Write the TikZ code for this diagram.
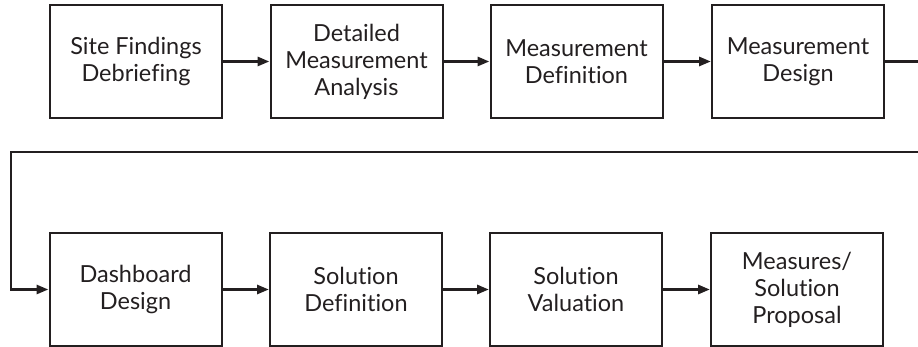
\documentclass[tikz,border=0pt]{standalone}
\usepackage{fontspec}
\setmainfont{Lato}[Ligatures=NoCommon]
\usetikzlibrary{arrows.meta}
\definecolor{ink}{HTML}{231F20}
\tikzset{
  stepbox/.style={draw=ink, line width=2pt, minimum width=172pt, minimum height=113pt,
    align=center, inner sep=0pt, text=ink,
    font=\fontsize{23.5}{27}\selectfont},
  flow/.style={draw=ink, line width=2.8pt, -{Triangle[length=12pt,width=9pt]}},
  plain/.style={draw=ink, line width=2.8pt}
}
\begin{document}
\begin{tikzpicture}[x=1pt,y=-1pt]
\useasboundingbox (0,0) rectangle (918,347);
% upper row
\node[stepbox] (a) at (136,61.5) {Site Findings\\Debriefing};
\node[stepbox] (b) at (356.5,61.5) {Detailed\\Measurement\\Analysis};
\node[stepbox] (c) at (576.5,61.5) {Measurement\\Definition};
\node[stepbox] (d) at (798,61.5) {Measurement\\Design};
% lower row
\node[stepbox] (e) at (135.5,289.5) {Dashboard\\Design};
\node[stepbox] (f) at (356,289.5) {Solution\\Definition};
\node[stepbox] (g) at (576,289.5) {Solution\\Valuation};
\node[stepbox] (h) at (797,289.5) {Measures/\\Solution\\Proposal};
% connectors
\draw[flow] (a) -- (b);
\draw[flow] (b) -- (c);
\draw[flow] (c) -- (d);
\coordinate (out) at (919,61.5);
\draw[plain] (d.east) -- (out);
\coordinate (back) at (919,152);
\coordinate (turn) at (11,152);
\draw[flow] (back) -- (turn) |- (e.west);
\draw[flow] (e) -- (f);
\draw[flow] (f) -- (g);
\draw[flow] (g) -- (h);
\end{tikzpicture}
\end{document}
